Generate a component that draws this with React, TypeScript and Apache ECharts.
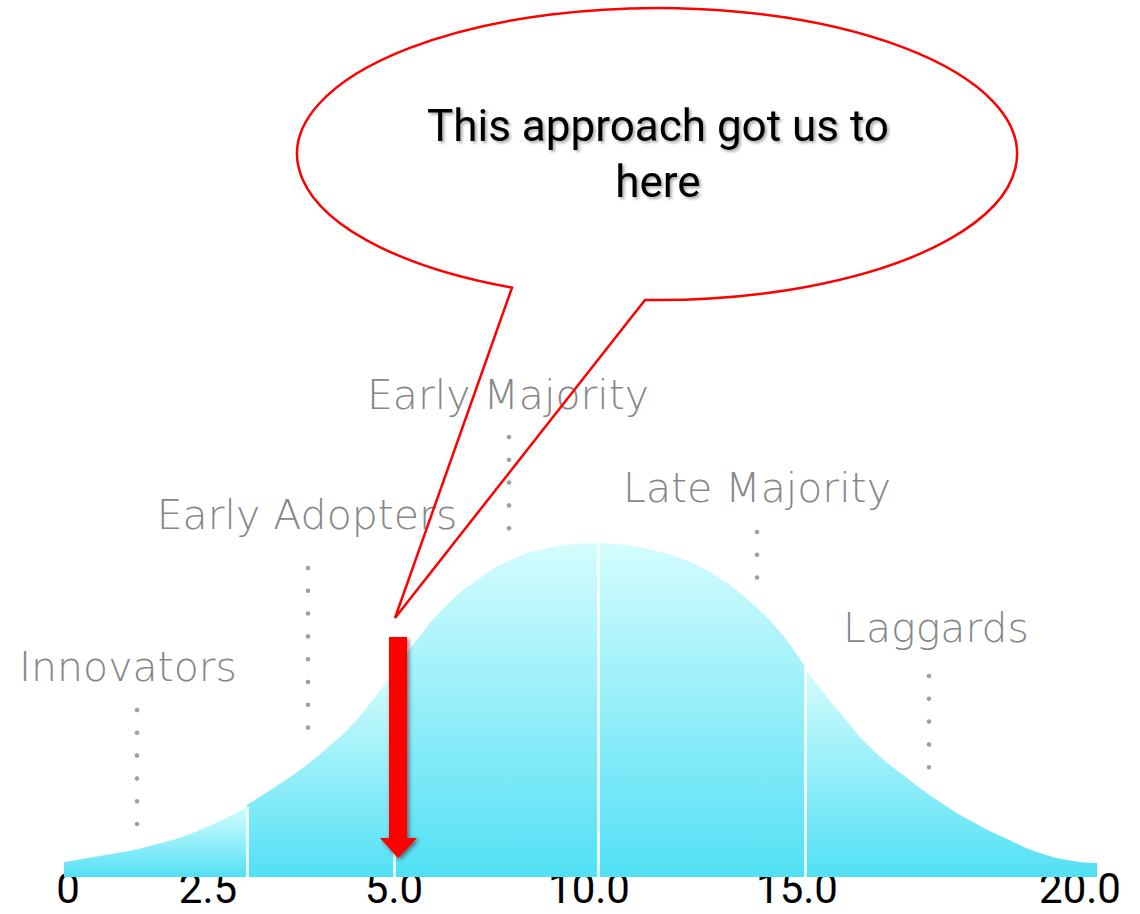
import React, { useEffect, useRef } from "react";
import * as echarts from "echarts";

// ---- Data ----
// Curve of adopters: [position along the axis, height of the curve]
const innovators: [number, number][] = [
  [64, 15], [100, 21], [150, 31], [200, 47], [247, 70],
];
const earlyAdopters: [number, number][] = [
  [247, 72], [275, 90], [300, 107], [325, 127], [350, 150], [372, 176], [394, 205],
];
const earlyMajority: [number, number][] = [
  [394, 205], [413, 232], [447, 272], [480, 299], [513, 318], [547, 329], [575, 333], [598, 334],
];
const lateMajority: [number, number][] = [
  [598, 334], [625, 332], [647, 328], [680, 319], [713, 303], [747, 278], [780, 245], [805, 210],
];
const laggards: [number, number][] = [
  [805, 208], [840, 164], [873, 127], [907, 99], [940, 75], [973, 55], [1007, 38], [1040, 24], [1073, 16], [1097, 14],
];

const segmentNames = ["Innovators", "Early Adopters", "Early Majority", "Late Majority", "Laggards"];
const segments = [innovators, earlyAdopters, earlyMajority, lateMajority, laggards];

// Tick labels of the bottom axis (positions on the axis where each text sits)
const tickValues = [68, 208, 394, 589, 797, 1080];
const tickLabels = ["0", "2.5", "5.0", "10.0", "15.0", "20.0"];

const calloutLines = ["This approach got us to", "here"];

// ---- Styling / layout ----
const LIGHT = "#d4fdfd";
const DEEP = "#52e0f5";
const NARROW = 'Roboto, "Liberation Sans", sans-serif';

// label placement (pixel positions) and leader dots
const labelLayout = [
  { x: 128, y: 667, dotX: 137, dotY: 710, dots: 6 },
  { x: 307, y: 515, dotX: 308, dotY: 568, dots: 8 },
  { x: 508, y: 395, dotX: 509, dotY: 437, dots: 5 },
  { x: 757, y: 488, dotX: 757, dotY: 532, dots: 3 },
  { x: 936, y: 628, dotX: 929, dotY: 676, dots: 5 },
];
const DOT_STEP = 22.8;

const BUBBLE_PATH = "M645 299.9 A360 146 0 1 0 512 287.6 L395 618 Z";
let registered = false;

export default function App() {
  const ref = useRef<HTMLDivElement>(null);

  useEffect(() => {
    if (!ref.current) return;
    if (!registered) {
      echarts.graphic.registerShape("speechBubble", echarts.graphic.extendPath(BUBBLE_PATH, {}));
      registered = true;
    }
    const chart = echarts.init(ref.current, null, { renderer: "svg" });

    const gradient = () =>
      new echarts.graphic.LinearGradient(0, 0, 0, 1, [
        { offset: 0, color: LIGHT },
        { offset: 1, color: DEEP },
      ]);

    const separators = segments.slice(0, segments.length - 1).map((seg) => {
      const last = seg[seg.length - 1];
      return [{ coord: [last[0], 0] }, { coord: [last[0], last[1]] }];
    });

    const series: any[] = segments.map((seg, i) => ({
      type: "line",
      name: segmentNames[i],
      data: seg,
      smooth: 0.5,
      symbol: "none",
      lineStyle: { width: 0 },
      areaStyle: { color: gradient(), opacity: 1 },
      z: 2,
      silent: true,
    }));
    series[series.length - 1].markLine = {
      silent: true,
      symbol: ["none", "none"],
      label: { show: false },
      lineStyle: { color: "#ffffff", width: 3, type: "solid", opacity: 0.85 },
      data: separators,
      z: 5,
    };

    const graphics: any[] = [];
    segmentNames.forEach((name, i) => {
      const l = labelLayout[i];
      graphics.push({
        type: "text",
        z: 10,
        style: {
          text: name,
          x: l.x,
          y: l.y,
          align: "center",
          verticalAlign: "middle",
          fontFamily: "DejaVu Sans",
          fontWeight: 300,
          fontSize: 41,
          fill: "#878787",
        },
      });
      for (let k = 0; k < l.dots; k++) {
        graphics.push({
          type: "circle",
          z: 10,
          shape: { cx: l.dotX, cy: l.dotY + k * DOT_STEP, r: 2.3 },
          style: { fill: "#a0a0a0" },
        });
      }
    });

    // red arrow
    graphics.push({
      type: "polygon",
      z: 20,
      shape: {
        points: [
          [389, 637], [407, 637], [407, 838], [417, 838], [398, 858], [380, 838], [389, 838],
        ],
      },
      style: {
        fill: "#ff0000",
        shadowBlur: 4,
        shadowColor: "rgba(60,0,0,0.55)",
        shadowOffsetX: 2,
        shadowOffsetY: 2,
      },
    });

    // speech bubble
    graphics.push({
      type: "speechBubble",
      z: 30,
      x: 0,
      y: 0,
      scaleX: 1,
      scaleY: 1,
      style: { fill: "none", stroke: "#ff0000", lineWidth: 2.5 },
    });
    calloutLines.forEach((t, i) => {
      graphics.push({
        type: "text",
        z: 31,
        style: {
          text: t,
          x: 658,
          y: 126 + i * 56,
          align: "center",
          verticalAlign: "middle",
          fontFamily: NARROW,
          fontSize: 44,
          fill: "#000000",
          textShadowColor: "rgba(0,0,0,0.35)",
          textShadowBlur: 3,
          textShadowOffsetX: 2,
          textShadowOffsetY: 2,
        },
      });
    });

    chart.setOption({
      animation: false,
      backgroundColor: "#ffffff",
      grid: { left: 64, right: 43, top: 477, bottom: 37, containLabel: false },
      xAxis: {
        type: "value",
        min: 64,
        max: 1097,
        axisLine: { show: false },
        axisTick: { show: false },
        splitLine: { show: false },
        axisLabel: {
          customValues: tickValues,
          formatter: (v: number) => {
            const idx = tickValues.indexOf(v);
            return idx >= 0 ? tickLabels[idx] : "";
          },
          color: "#000000",
          fontFamily: NARROW,
          fontSize: 42,
          lineHeight: 42,
          margin: -10,
        },
      },
      yAxis: { type: "value", min: 0, max: 400, show: false },
      series,
      graphic: graphics,
    });

    return () => chart.dispose();
  }, []);

  return (
    <div
      ref={ref}
      style={{ position: "absolute", left: 0, top: 0, width: 1140, height: 914 }}
    />
  );
}
